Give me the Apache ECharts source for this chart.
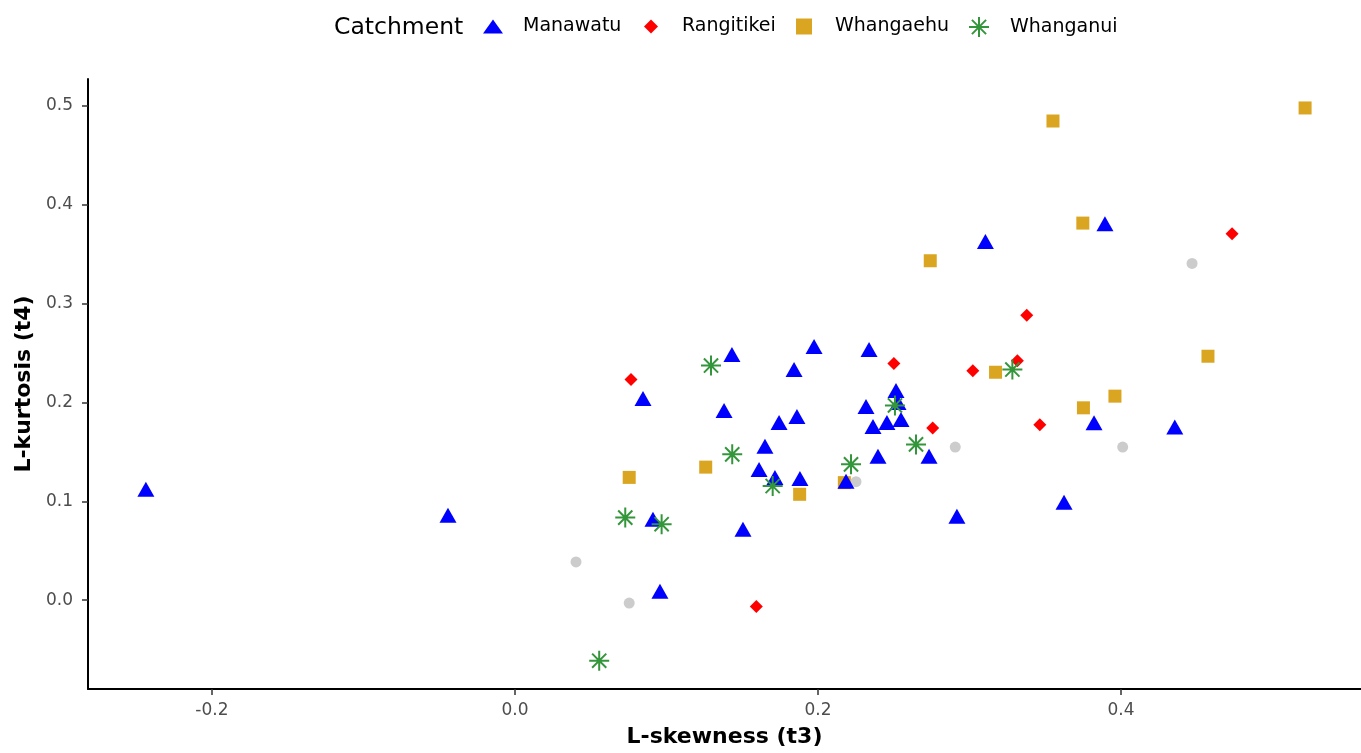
<!DOCTYPE html>
<html>
<head>
<meta charset="utf-8">
<script src="https://cdn.jsdelivr.net/npm/echarts@6/dist/echarts.min.js"></script>
<style>
html,body{margin:0;padding:0;background:#fff;}
#chart{width:1361px;height:753px;}
</style>
</head>
<body>
<div id="chart"></div>
<script>
// ---- data (L-skewness t3, L-kurtosis t4) ----
const catchments = ['Manawatu', 'Rangitikei', 'Whangaehu', 'Whanganui'];

const manawatu = [
  [-0.2436, 0.1121], [-0.0442, 0.0859], [0.0845, 0.2040], [0.0911, 0.0818],
  [0.0957, 0.0091], [0.1432, 0.2485], [0.1380, 0.1919], [0.1505, 0.0717],
  [0.1650, 0.1556], [0.1611, 0.1323], [0.1716, 0.1242], [0.1743, 0.1798],
  [0.1861, 0.1859], [0.1842, 0.2333], [0.1974, 0.2566], [0.1881, 0.1232],
  [0.2185, 0.1202], [0.2337, 0.2535], [0.2317, 0.1960], [0.2363, 0.1758],
  [0.2396, 0.1455], [0.2455, 0.1798], [0.2548, 0.1828], [0.2515, 0.2121],
  [0.2528, 0.2000], [0.2733, 0.1455], [0.2917, 0.0848], [0.3105, 0.3629],
  [0.3624, 0.0990], [0.3822, 0.1795], [0.3894, 0.3808], [0.4355, 0.1751]
];

const rangitikei = [
  [0.0766, 0.2232], [0.1593, -0.0064], [0.2501, 0.2394], [0.2757, 0.1741],
  [0.3022, 0.2320], [0.3316, 0.2421], [0.3378, 0.2882], [0.3464, 0.1775],
  [0.4733, 0.3707]
];

const whangaehu = [
  [0.0754, 0.1242], [0.1259, 0.1346], [0.1879, 0.1071], [0.2174, 0.1189],
  [0.2741, 0.3434], [0.3172, 0.2306], [0.3551, 0.4848], [0.3748, 0.3815],
  [0.3752, 0.1946], [0.3960, 0.2064], [0.4574, 0.2468], [0.5215, 0.4980]
];

const whanganui = [
  [0.0556, -0.0613], [0.0728, 0.0835], [0.0968, 0.0768], [0.1294, 0.2374],
  [0.1434, 0.1475], [0.1701, 0.1155], [0.2218, 0.1374], [0.2508, 0.1970],
  [0.2647, 0.1576], [0.3283, 0.2333]
];

const noCatchment = [
  [0.0403, 0.0387], [0.0754, -0.0030], [0.2251, 0.1199], [0.2906, 0.1549],
  [0.4011, 0.1549], [0.4469, 0.3407]
];

const xTicks = [-0.2, 0.0, 0.2, 0.4];
const yTicks = [0.0, 0.1, 0.2, 0.3, 0.4, 0.5];

// ---- chart ----
const asterisk = 'path://M45,0H55V100H45Z M0,45H100V55H0Z ' +
  'M18.1,11.1L88.9,81.9L81.9,88.9L11.1,18.1Z ' +
  'M81.9,11.1L88.9,18.1L18.1,88.9L11.1,81.9Z';

const FONT = '"DejaVu Sans", "Liberation Sans", sans-serif';

const chart = echarts.init(document.getElementById('chart'), null, {renderer: 'canvas'});

function legendFor(name, left, w, h, padLeft) {
  return {
    data: [name],
    left: left,
    top: 17,
    itemWidth: w,
    itemHeight: h,
    padding: 0,
    textStyle: {fontSize: 19, color: '#000000', fontFamily: FONT, padding: [0, 0, 0, padLeft]}
  };
}

const option = {
  backgroundColor: '#ffffff',
  animation: false,
  textStyle: {fontFamily: FONT},
  graphic: [{
    type: 'text',
    left: 334,
    top: 16,
    style: {text: 'Catchment', fontSize: 23.5, fontFamily: FONT, fill: '#000000'}
  }],
  legend: [
    legendFor('Manawatu', 483, 20, 14, 15),
    legendFor('Rangitikei', 644, 14, 14, 19),
    legendFor('Whangaehu', 796, 16, 16, 18),
    legendFor('Whanganui', 969, 20, 20, 16)
  ],
  grid: {left: 88, right: 0, top: 79, bottom: 63, containLabel: false},
  xAxis: {
    type: 'value',
    min: -0.2818,
    max: 0.5584,
    name: 'L-skewness (t3)',
    nameLocation: 'middle',
    nameGap: 37,
    nameTextStyle: {fontSize: 22, fontWeight: 'bold', color: '#000000', fontFamily: FONT},
    axisLine: {show: true, onZero: false, lineStyle: {color: '#000000', width: 2}},
    axisTick: {show: true, length: 6, customValues: xTicks, lineStyle: {color: '#333333', width: 1.5}},
    axisLabel: {customValues: xTicks, margin: 13, fontSize: 17, color: '#4d4d4d', fontFamily: FONT,
      formatter: v => v.toFixed(1)},
    splitLine: {show: false}
  },
  yAxis: {
    type: 'value',
    min: -0.0899,
    max: 0.5273,
    name: 'L-kurtosis (t4)',
    nameLocation: 'middle',
    nameGap: 50,
    nameRotate: 90,
    nameTextStyle: {fontSize: 22, fontWeight: 'bold', color: '#000000', fontFamily: FONT},
    axisLine: {show: true, onZero: false, lineStyle: {color: '#000000', width: 2}},
    axisTick: {show: true, length: 6, customValues: yTicks, lineStyle: {color: '#333333', width: 1.5}},
    axisLabel: {customValues: yTicks, margin: 15, fontSize: 17, color: '#4d4d4d', fontFamily: FONT,
      formatter: v => v.toFixed(1)},
    splitLine: {show: false}
  },
  series: [
    {name: 'NA', type: 'scatter', data: noCatchment, symbol: 'circle', symbolSize: 11,
      itemStyle: {color: '#cccccc', opacity: 1}, silent: true},
    {name: 'Whangaehu', type: 'scatter', data: whangaehu, symbol: 'rect', symbolSize: 13,
      itemStyle: {color: '#DAA520', opacity: 1}},
    {name: 'Rangitikei', type: 'scatter', data: rangitikei, symbol: 'diamond', symbolSize: [13, 13],
      itemStyle: {color: '#FF0000', opacity: 1}},
    {name: 'Manawatu', type: 'scatter', data: manawatu, symbol: 'triangle', symbolSize: [17, 15],
      itemStyle: {color: '#0000FF', opacity: 1}},
    {name: 'Whanganui', type: 'scatter', data: whanganui, symbol: asterisk, symbolSize: 20,
      itemStyle: {color: '#33963a', opacity: 1}}
  ]
};

chart.setOption(option);
</script>
</body>
</html>
